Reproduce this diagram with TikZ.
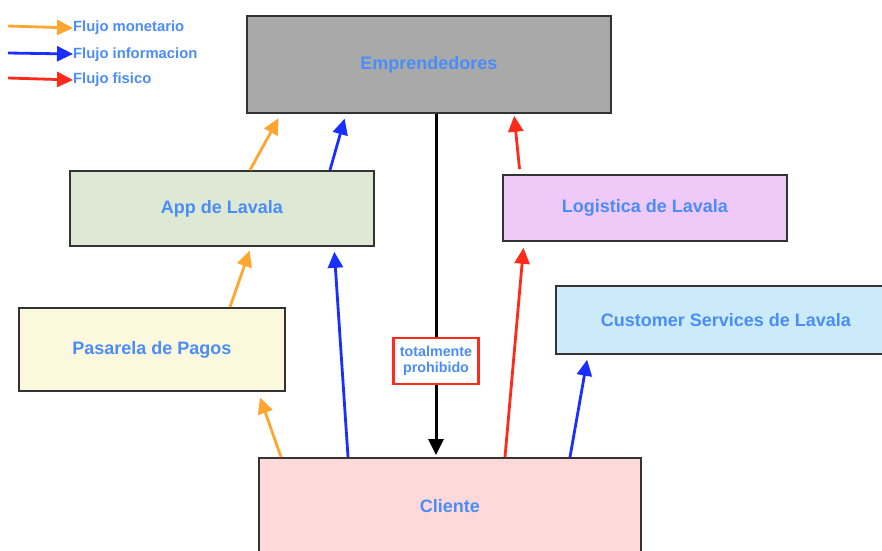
\documentclass[tikz,border=0pt]{standalone}
\usepackage{fontspec}
\setmainfont{Liberation Sans}
\usetikzlibrary{arrows.meta}

\definecolor{txtblue}{HTML}{4B8DF8}
\definecolor{flowor}{HTML}{FFA530}
\definecolor{flowbl}{HTML}{1A2EFF}
\definecolor{flowrd}{HTML}{FF2A1A}
\definecolor{edgegray}{HTML}{333333}

\tikzset{
  box/.style={draw=edgegray, line width=1.8pt, anchor=north west, inner sep=0pt,
    font=\fontsize{18}{20}\selectfont\bfseries, text=txtblue},
  tip/.style={-{Triangle[length=16pt,width=15pt]}},
  flow/.style={line width=2.8pt, tip},
  money/.style={flow, draw=flowor, fill=flowor},
  info/.style={flow, draw=flowbl, fill=flowbl},
  goods/.style={flow, draw=flowrd, fill=flowrd},
  legendtxt/.style={anchor=west, inner sep=0pt, text=txtblue,
    font=\fontsize{14.8}{16}\selectfont\bfseries},
}

\begin{document}
\begin{tikzpicture}[x=1pt, y=-1pt]
\useasboundingbox (0,0) rectangle (882,550);

% legend
\coordinate (lo1) at (8,26);  \coordinate (lo2) at (73,28);
\coordinate (lb1) at (8,53);  \coordinate (lb2) at (73,54);
\coordinate (lr1) at (8,78);  \coordinate (lr2) at (73,80);
\draw[money] (lo1) -- (lo2);
\draw[info] (lb1) -- (lb2);
\draw[goods] (lr1) -- (lr2);
\node[legendtxt] (lt1) at (73,28) {Flujo monetario};
\node[legendtxt] (lt2) at (73,55) {Flujo informacion};
\node[legendtxt] (lt3) at (73,80) {Flujo fisico};

% boxes
\node[box, fill={rgb,255:red,169;green,169;blue,169}, minimum width=364pt, minimum height=97pt] (emp) at (246,15) {Emprendedores};
\node[box, fill={rgb,255:red,221;green,233;blue,213}, minimum width=304pt, minimum height=75pt] (app) at (69,170) {App de Lavala};
\node[box, fill={rgb,255:red,239;green,201;blue,248}, minimum width=284pt, minimum height=66pt] (log) at (502,174) {Logistica de Lavala};
\node[box, fill={rgb,255:red,250;green,249;blue,221}, minimum width=266pt, minimum height=83pt] (pas) at (18,307) {Pasarela de Pagos};
\node[box, fill={rgb,255:red,203;green,235;blue,250}, minimum width=340pt, minimum height=68pt] (cs) at (555,285) {Customer Services de Lavala};
\node[box, fill={rgb,255:red,253;green,217;blue,217}, minimum width=382pt, minimum height=96pt] (cli) at (258,457) {Cliente};

% forbidden direct link
\draw[line width=3pt, tip, shorten >=2pt]
  ([xshift=190pt]emp.south west) -- ([xshift=178pt]cli.north west);
\node[draw=flowrd, line width=2.4pt, fill=white, text=txtblue, align=center,
  minimum width=85pt, minimum height=46pt, inner sep=1pt,
  font=\fontsize{14.3}{15.5}\selectfont\bfseries] (ban) at (436,361) {totalmente\\prohibido};

% flows
\draw[money, shorten >=5pt] ([xshift=181pt]app.north west) -- ([xshift=35pt]emp.south west);
\draw[info, shorten >=5pt] ([xshift=261pt]app.north west) -- ([xshift=100pt]emp.south west);
\draw[goods, shorten <=5pt, shorten >=2pt] ([xshift=18pt]log.north west) -- ([xshift=268pt]emp.south west);
\draw[money, shorten >=4pt] ([xshift=212pt]pas.north west) -- ([xshift=182pt]app.south west);
\draw[info, shorten >=5pt] ([xshift=90pt]cli.north west) -- ([xshift=265pt]app.south west);
\draw[money, shorten >=6pt] ([xshift=23pt]cli.north west) -- ([xshift=240pt]pas.south west);
\draw[goods, shorten >=6pt] ([xshift=247pt]cli.north west) -- ([xshift=22pt]log.south west);
\draw[info, shorten >=5pt] ([xshift=312pt]cli.north west) -- ([xshift=33pt]cs.south west);
\end{tikzpicture}
\end{document}
